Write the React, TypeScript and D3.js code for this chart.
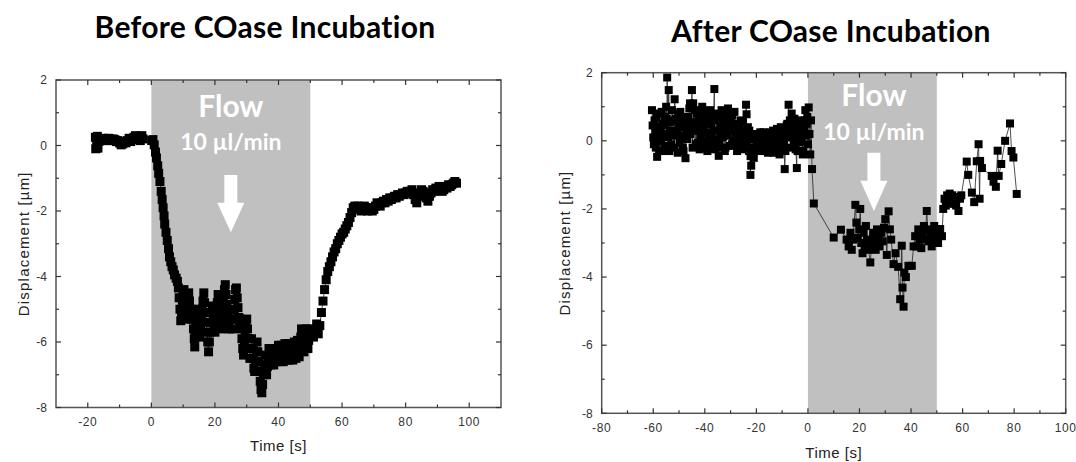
import { useEffect, useRef } from 'react'
import { select, scaleLinear, line } from 'd3'

type Pt = [number, number]

// ---- left panel: before COase incubation (time [s], displacement [µm]) ----
const leftBaseline: Pt[] = [
  [-17.6, 0.25], [-17.5, -0.1], [-17.2, 0.1], [-17.0, 0.28], [-16.8, -0.08], [-16.5, 0.12],
  [-16.0, 0.2], [-15.5, 0.15], [-15.0, 0.22], [-14.5, 0.2], [-14.0, 0.15], [-13.5, 0.22],
  [-13.0, 0.2], [-12.5, 0.15], [-12.0, 0.2], [-11.5, 0.18], [-11.0, 0.12], [-10.5, 0.15],
  [-10.0, 0.08], [-9.5, 0.02], [-9.0, 0.05], [-8.5, 0.12], [-8.0, 0.08], [-7.5, 0.15],
  [-7.0, 0.22], [-6.5, 0.12], [-6.0, 0.18], [-5.5, 0.25], [-5.0, 0.3], [-4.5, 0.2],
  [-4.0, 0.28], [-3.5, 0.15], [-3.0, 0.3], [-2.6, 0.2],
]

const leftDrop: Pt[] = [
  [0.1, 0.15], [0.5, 0.18], [0.9, 0.02], [1.3, -0.2], [1.6, -0.38], [2.0, -0.62], [2.3, -0.85],
  [2.7, -1.1], [3.1, -1.4], [3.4, -1.65], [3.7, -1.9], [4.0, -2.15], [4.2, -2.4], [4.6, -2.65],
  [5.0, -2.9], [5.4, -3.15], [5.7, -3.4], [6.1, -3.55], [6.5, -3.7], [6.9, -3.8], [7.3, -3.95],
  [7.8, -4.05], [8.2, -4.15],
]

const leftTrough: Pt[] = [
  [8.5, -4.35], [8.75, -4.65], [9.0, -5.0], [9.25, -5.35], [9.5, -5.1], [9.75, -4.8],
  [10.0, -4.5], [10.25, -4.4], [10.5, -4.7], [10.75, -5.0], [11.0, -5.3], [11.25, -5.05],
  [11.5, -4.75], [11.75, -4.5], [12.0, -4.75], [12.25, -5.05], [12.5, -5.3], [12.75, -5.0],
  [13.0, -5.3], [13.25, -5.6], [13.5, -5.9], [13.65, -6.15], [13.8, -5.85], [14.0, -5.55],
  [14.25, -5.25], [14.5, -5.0], [14.75, -5.25], [15.0, -5.55], [15.25, -5.85], [15.5, -5.6],
  [15.75, -5.3], [16.0, -5.0], [16.25, -4.75], [16.5, -4.5], [16.75, -4.8], [17.0, -5.1],
  [17.25, -5.4], [17.5, -5.7], [17.75, -6.0], [18.0, -6.3], [18.25, -6.0], [18.5, -5.7],
  [18.75, -5.4], [19.0, -5.1], [19.25, -4.9], [19.5, -5.2], [19.75, -5.5], [20.0, -5.7],
  [20.25, -5.4], [20.5, -5.1], [20.75, -4.8], [21.0, -4.55], [21.25, -4.85], [21.5, -5.15],
  [21.75, -5.45], [22.0, -5.6], [22.25, -5.3], [22.5, -5.0], [22.75, -4.7], [23.0, -4.4],
  [23.25, -4.25], [23.5, -4.55], [23.75, -4.85], [24.0, -5.15], [24.25, -5.45], [24.5, -5.6],
  [24.75, -5.3], [25.0, -5.0], [25.25, -5.3], [25.5, -5.6], [25.75, -5.3], [26.0, -5.0],
  [26.25, -4.7], [26.5, -4.4], [26.75, -4.35], [27.0, -4.65], [27.25, -4.95], [27.5, -5.25],
  [27.75, -5.55], [28.0, -5.3], [28.25, -5.6], [28.5, -5.9], [28.75, -6.2], [29.0, -6.4],
  [29.25, -6.1], [29.5, -5.8], [29.75, -5.5], [30.0, -5.3], [30.25, -5.6], [30.5, -5.9],
  [30.75, -6.2], [31.0, -6.5], [31.25, -6.2], [31.5, -5.9], [31.75, -6.2], [32.0, -6.5],
  [32.25, -6.8], [32.5, -6.9], [32.75, -6.6], [33.0, -6.3], [33.25, -6.0], [33.5, -6.3],
  [33.75, -6.6], [34.0, -6.9], [34.25, -7.2], [34.5, -7.45], [34.75, -7.55], [35.0, -7.3],
  [35.25, -7.0], [35.5, -6.7], [35.75, -6.4], [36.0, -6.7], [36.25, -7.0], [36.5, -6.75],
  [36.75, -6.45], [37.0, -6.2], [37.25, -6.45], [37.5, -6.7], [37.75, -6.45], [38.0, -6.2],
  [38.25, -6.45], [38.5, -6.7], [38.75, -6.45], [39.0, -6.2], [39.25, -6.45], [39.5, -6.6],
  [39.75, -6.35], [40.0, -6.1], [40.25, -6.35], [40.5, -6.6], [40.75, -6.35], [41.0, -6.1],
  [41.25, -6.35], [41.5, -6.6], [41.75, -6.35], [42.0, -6.05], [42.25, -6.3], [42.5, -6.55],
  [42.75, -6.3], [43.0, -6.05], [43.25, -6.3], [43.5, -6.55], [43.75, -6.3], [44.0, -6.05],
  [44.25, -6.3], [44.5, -6.55], [44.75, -6.3], [45.0, -6.0], [45.25, -6.25], [45.5, -6.5],
  [45.75, -6.2], [46.0, -5.95], [46.25, -6.2], [46.5, -6.45], [46.75, -6.15], [47.0, -5.85],
  [47.25, -5.6], [47.5, -5.9], [47.75, -6.2], [48.0, -6.3], [48.25, -6.0], [48.5, -5.7],
  [48.75, -5.6], [49.0, -5.9], [49.25, -6.2], [49.5, -5.95], [49.75, -5.65], [50.0, -5.6],
]

const leftRecovery: Pt[] = [
  [51.0, -5.85], [51.5, -5.65], [52.0, -5.45], [52.5, -5.75], [53.0, -5.5], [53.5, -5.1],
  [54.0, -4.75], [54.5, -4.4], [55.0, -4.1], [55.5, -3.85], [56.0, -3.7], [56.5, -3.55],
  [57.0, -3.4], [57.5, -3.25], [58.0, -3.15], [58.5, -3.0], [59.0, -2.9], [59.5, -2.8],
  [60.0, -2.7], [60.5, -2.65], [61.0, -2.55], [61.5, -2.45], [62.0, -2.35], [62.5, -2.2],
  [63.0, -2.05], [63.5, -1.9], [64.0, -1.85], [64.5, -1.95], [65.0, -1.85], [65.5, -1.9],
  [66.0, -2.0], [66.5, -1.95], [67.0, -1.85], [67.5, -1.9], [68.0, -2.0], [68.5, -1.95],
  [69.0, -1.9], [69.5, -2.0], [70.0, -1.95], [70.5, -1.85], [71.0, -1.75], [71.5, -1.8],
  [72.0, -1.85], [72.5, -1.75], [73.0, -1.7], [73.5, -1.75], [74.0, -1.65], [74.5, -1.7],
  [75.0, -1.6], [75.5, -1.65], [76.0, -1.6], [76.5, -1.55], [77.0, -1.6], [77.5, -1.5],
  [78.0, -1.55], [78.5, -1.5], [79.0, -1.45], [79.5, -1.5], [80.0, -1.45], [80.5, -1.4],
  [81.0, -1.45], [81.5, -1.4], [82.0, -1.35], [82.5, -1.5], [83.0, -1.65], [83.5, -1.75],
  [84.0, -1.55], [84.5, -1.45], [85.0, -1.35], [85.5, -1.4], [86.0, -1.5], [86.5, -1.6],
  [87.0, -1.7], [87.5, -1.55], [88.0, -1.45], [88.5, -1.35], [89.0, -1.4], [89.5, -1.3],
  [90.0, -1.35], [90.5, -1.25], [91.0, -1.3], [91.5, -1.4], [92.0, -1.35], [92.5, -1.25],
  [93.0, -1.3], [93.5, -1.2], [94.0, -1.25], [94.5, -1.2], [95.0, -1.15], [95.5, -1.1],
  [96.0, -1.15],
]

// ---- right panel: after COase incubation ----
const rightBefore: Pt[] = [
  [-60.5, 0.9], [-60.0, 0.1], [-59.5, 0.6], [-59.0, -0.2], [-58.5, -0.47], [-58.0, 0.4],
  [-57.5, 0.8], [-57.0, 0.0], [-56.5, 0.5], [-56.0, -0.3], [-55.5, 0.7], [-55.0, 1.0],
  [-54.6, 1.86], [-54.0, 1.49], [-53.5, 0.3], [-53.0, -0.1], [-52.5, 0.6], [-51.7, 1.22],
  [-51.0, 0.2], [-50.5, -0.35], [-50.0, 0.5], [-49.5, 0.85], [-49.0, 0.1], [-48.5, -0.2],
  [-48.0, 0.4], [-47.5, -0.51], [-47.0, 0.3], [-46.5, 0.7], [-46.0, 0.95], [-45.5, 0.2],
  [-45.0, 1.49], [-44.5, 1.1], [-44.0, 0.5], [-43.5, -0.1], [-43.0, 0.8], [-42.5, 0.3],
  [-42.0, -0.25], [-41.5, 0.6], [-41.0, 1.0], [-40.5, 0.4], [-40.0, 0.0], [-39.5, 0.7],
  [-39.0, -0.3], [-38.5, 0.2], [-38.0, 0.9], [-37.5, 0.5], [-37.0, -0.1], [-36.3, 1.52],
  [-36.0, 0.8], [-35.5, 0.3], [-35.0, -0.2], [-34.6, -0.44], [-34.0, 0.4], [-33.5, 0.9],
  [-33.0, 0.1], [-32.5, 0.6], [-32.0, -0.2], [-31.5, 0.5], [-31.0, 0.95], [-30.5, 0.3],
  [-30.0, 0.7], [-29.5, -0.1], [-29.0, 0.4], [-28.5, 0.85], [-28.0, 0.2], [-27.5, -0.3],
  [-27.0, 0.5], [-26.5, 0.1], [-26.0, 0.6], [-25.5, -0.2], [-25.0, 0.3], [-24.5, 0.0],
  [-24.0, 1.06], [-23.8, 0.78], [-23.3, 0.4], [-22.8, -0.3], [-22.3, -1.0], [-22.0, -0.73],
  [-21.5, -0.2], [-21.0, -0.5], [-20.5, 0.1], [-20.0, -0.25], [-19.5, 0.2], [-19.0, -0.1],
  [-18.5, 0.25], [-18.0, -0.3], [-17.5, 0.0], [-17.0, 0.2], [-16.5, -0.2], [-16.0, 0.1],
  [-15.5, -0.35], [-15.0, 0.2], [-14.5, 0.0], [-14.0, -0.3], [-13.5, 0.3], [-13.0, 0.1],
  [-12.5, -0.2], [-12.0, 0.35], [-11.5, 0.0], [-11.0, -0.4], [-10.5, 0.4], [-10.0, 0.1],
  [-9.5, -0.2], [-9.0, -0.83], [-8.5, 0.2], [-8.0, 0.5], [-7.5, 1.06], [-7.0, 0.6],
  [-6.3, 0.8], [-6.0, 0.2], [-5.5, -0.1], [-5.0, 0.4], [-4.3, -0.8], [-4.0, -0.3],
  [-3.5, 0.3], [-3.0, 0.6], [-2.5, 0.0], [-2.0, -0.4], [-1.5, 0.3], [-1.0, 0.9],
  [-0.5, 0.5], [0.0, -0.1], [0.3, 0.98], [0.6, 0.2], [0.9, -0.4], [1.2, 0.6],
]

// samples between the ones above (the pre-flow trace is recorded densely)
const rightBeforeDense: Pt[] = [
  [-60.25, 0.45], [-59.75, -0.1], [-59.25, 0.25], [-58.75, 0.7], [-58.25, 0.05], [-57.75, -0.3],
  [-57.25, 0.35], [-56.75, 0.85], [-56.25, 0.2], [-55.75, -0.15], [-55.25, 0.45], [-54.75, 0.65],
  [-54.25, 0.1], [-53.75, -0.3], [-53.25, 0.55], [-52.75, 0.9], [-52.25, 0.15], [-51.75, -0.2],
  [-51.25, 0.65], [-50.75, 0.3], [-50.25, 0.8], [-49.75, -0.05], [-49.25, 0.45], [-48.75, 0.7],
  [-48.25, -0.3], [-47.75, 0.15], [-47.25, 0.6], [-46.75, 0.05], [-46.25, 0.4], [-45.75, 1.1],
  [-45.25, 0.55], [-44.75, -0.2], [-44.25, 0.3], [-43.75, 0.9], [-43.25, 0.45], [-42.75, -0.05],
  [-42.25, 0.65], [-41.75, 0.15], [-41.25, 0.85], [-40.75, -0.2], [-40.25, 0.55], [-39.75, 0.25],
  [-39.25, 0.8], [-38.75, -0.1], [-38.25, 0.5], [-37.75, 0.1], [-37.25, 0.7], [-36.75, 0.3],
  [-36.25, -0.25], [-35.75, 0.6], [-35.25, 0.05], [-34.75, 0.75], [-34.25, -0.1], [-33.75, 0.2],
  [-33.25, 0.65], [-32.75, 0.35], [-32.25, -0.3], [-31.75, 0.8], [-31.25, 0.15], [-30.75, 0.55],
  [-30.25, -0.15], [-29.75, 0.35], [-29.25, 0.75], [-28.75, 0.0], [-28.25, 0.5], [-27.75, 0.25],
  [-27.25, -0.2], [-26.75, 0.4], [-26.25, -0.1], [-25.75, 0.3], [-25.25, 0.55], [-24.75, -0.25],
  [-24.25, 0.2], [-23.75, -0.05], [-23.25, 0.1], [-22.75, 0.3], [-22.25, -0.45], [-21.75, 0.05],
  [-21.25, 0.2], [-20.75, -0.3], [-20.25, 0.15], [-19.75, -0.1], [-19.25, 0.05], [-18.75, -0.25],
  [-18.25, 0.1], [-17.75, -0.15], [-17.25, 0.25], [-16.75, -0.05], [-16.25, -0.3], [-15.75, 0.15],
  [-15.25, -0.1], [-14.75, 0.25], [-14.25, -0.2], [-13.75, 0.0], [-13.25, -0.35], [-12.75, 0.2],
  [-12.25, -0.05], [-11.75, 0.25], [-11.25, -0.25], [-10.75, 0.1], [-10.25, -0.3], [-9.75, 0.3],
  [-9.25, 0.0], [-8.75, -0.3], [-8.25, 0.45], [-7.75, 0.1], [-7.25, 0.35], [-6.75, -0.2],
  [-6.25, 0.5], [-5.75, 0.1], [-5.25, 0.65], [-4.75, -0.25], [-4.25, 0.2], [-3.75, 0.45],
  [-3.25, -0.05], [-2.75, 0.4], [-2.25, 0.2], [-1.75, -0.3], [-1.25, 0.6], [-0.75, 0.15],
  [-0.25, 0.7],
]

const rightFlow: Pt[] = [
  [1.6, -0.83], [2.3, -1.84], [10.0, -2.84], [12.8, -2.61], [15.0, -2.9], [15.8, -3.1],
  [16.5, -2.7], [17.0, -3.2], [17.5, -2.9], [18.4, -1.88], [18.8, -2.4], [19.3, -2.85],
  [19.9, -2.6], [20.3, -2.0], [20.7, -3.0], [21.2, -3.3], [21.6, -2.7], [22.0, -3.1],
  [22.5, -2.5], [23.0, -2.9], [23.5, -3.2], [24.2, -3.57], [24.8, -3.0], [25.3, -2.7],
  [25.8, -2.9], [26.3, -3.2], [26.8, -2.6], [27.3, -2.9], [27.8, -3.1], [28.4, -2.7],
  [29.0, -2.95], [29.5, -2.55], [30.0, -2.3], [30.6, -3.35], [31.3, -2.07], [31.8, -2.6],
  [32.3, -2.9], [33.2, -3.62], [34.0, -3.3], [35.0, -3.7], [35.8, -4.65], [36.4, -3.08],
  [36.7, -4.31], [37.1, -4.87], [37.4, -3.87], [38.0, -4.0], [39.0, -3.67], [40.3, -3.67],
  [41.0, -3.1], [41.6, -2.8], [42.2, -3.1], [42.8, -2.6], [43.3, -2.9], [44.0, -3.15],
  [44.5, -2.7], [45.0, -2.5], [45.5, -2.9], [46.1, -2.06], [46.5, -2.6], [47.0, -2.95],
  [47.5, -2.7], [48.0, -3.1], [48.5, -2.8], [49.0, -2.5], [49.5, -2.9], [50.0, -2.7],
  [50.5, -3.0], [51.3, -2.59], [52.0, -2.8],
]

const rightAfter: Pt[] = [
  [52.5, -2.0], [53.0, -1.7], [53.5, -1.9], [54.0, -1.6], [54.5, -1.8], [55.0, -1.55],
  [55.5, -1.75], [56.0, -1.6], [56.5, -1.85], [57.0, -1.65], [57.5, -1.9], [58.4, -2.06],
  [59.0, -1.7], [59.5, -1.6], [61.6, -0.61], [62.2, -1.0], [63.6, -1.52], [64.5, -1.8],
  [65.5, -0.6], [66.2, -0.1], [66.6, -1.7], [66.8, -0.59], [67.5, -0.8], [71.3, -1.03],
  [72.0, -1.2], [72.9, -1.35], [73.6, -0.29], [74.0, -1.03], [75.0, -0.68], [76.5, 0.0],
  [78.4, 0.51], [79.0, -0.3], [79.7, -0.49], [81.0, -1.56],
]

const leftSeries = [...leftBaseline, ...leftDrop, ...leftTrough, ...leftRecovery]
const rightSeries = [
  ...[...rightBefore, ...rightBeforeDense].sort((a, b) => a[0] - b[0]),
  ...rightFlow,
  ...rightAfter,
]

const xMajorLeft = [-20, 0, 20, 40, 60, 80, 100]
const xMinorLeft = [-10, 10, 30, 50, 70, 90]
const xMajorRight = [-80, -60, -40, -20, 0, 20, 40, 60, 80, 100]
const xMinorRight = [-70, -50, -30, -10, 10, 30, 50, 70, 90]
const yMajor = [-8, -6, -4, -2, 0, 2]
const yMinor = [-7, -5, -3, -1, 1]
const flowWindow = [0, 50]

const titles = ['Before COase Incubation', 'After COase Incubation']
const flowLabel = 'Flow'
const rateLabel = '10 µl/min'
const xLabel = 'Time [s]'
const yLabel = 'Displacement [µm]'

const panels = [
  {
    title: titles[0],
    data: leftSeries,
    xDomain: [-30, 110],
    xMajor: xMajorLeft,
    xMinor: xMinorLeft,
    box: { x0: 56, x1: 501, y0: 80, y1: 407.5 },
    titleX: 265,
    titleY: 38,
    marker: 9,
    xLabelY: 451,
    yLabelX: 29,
    note: { t: 25, flowV: 0.87, rateV: -0.14, top: -0.9, neck: -1.75, tip: -2.65 },
  },
  {
    title: titles[1],
    data: rightSeries,
    xDomain: [-80, 100],
    xMajor: xMajorRight,
    xMinor: xMinorRight,
    box: { x0: 601.7, x1: 1065.7, y0: 72.7, y1: 413.3 },
    titleX: 831,
    titleY: 42,
    marker: 8,
    xLabelY: 458,
    yLabelX: 570,
    note: { t: 25.6, flowV: 1.03, rateV: 0.03, top: -0.35, neck: -1.17, tip: -2.06 },
  },
]

const axisFont = '"Liberation Sans", Arial, sans-serif'
const titleFont = 'Lato, "Open Sans", sans-serif'

const App = () => {
  const svgRef = useRef<SVGSVGElement>(null)

  useEffect(() => {
    const svg = select(svgRef.current)
    svg.selectAll('*').remove()

    panels.forEach((p) => {
      const { x0, x1, y0, y1 } = p.box
      const x = scaleLinear().domain(p.xDomain).range([x0, x1])
      const y = scaleLinear().domain([-8, 2]).range([y1, y0])
      const g = svg.append('g')

      // flow window shading
      g.append('rect')
        .attr('x', x(flowWindow[0]))
        .attr('y', y0)
        .attr('width', x(flowWindow[1]) - x(flowWindow[0]))
        .attr('height', y1 - y0)
        .attr('fill', '#c0c0c0')

      // title
      g.append('text')
        .text(p.title)
        .attr('x', p.titleX)
        .attr('y', p.titleY)
        .attr('text-anchor', 'middle')
        .attr('font-family', titleFont)
        .attr('font-weight', 'bold')
        .attr('font-size', 30)
        .attr('letter-spacing', 0.3)
        .attr('fill', '#000')

      // flow annotation
      const n = p.note
      g.append('text')
        .text(flowLabel)
        .attr('x', x(n.t))
        .attr('y', y(n.flowV))
        .attr('text-anchor', 'middle')
        .attr('font-family', titleFont)
        .attr('font-weight', 'bold')
        .attr('font-size', 30)
        .attr('fill', '#fff')
      g.append('text')
        .text(rateLabel)
        .attr('x', x(n.t))
        .attr('y', y(n.rateV))
        .attr('text-anchor', 'middle')
        .attr('font-family', titleFont)
        .attr('font-weight', 'bold')
        .attr('font-size', 23)
        .attr('fill', '#fff')
      const ax = x(n.t)
      const arrow = [
        [ax - 6.5, y(n.top)],
        [ax + 6.5, y(n.top)],
        [ax + 6.5, y(n.neck)],
        [ax + 13.5, y(n.neck)],
        [ax, y(n.tip)],
        [ax - 13.5, y(n.neck)],
        [ax - 6.5, y(n.neck)],
      ]
      g.append('polygon')
        .attr('points', arrow.map((d) => d.join(',')).join(' '))
        .attr('fill', '#fff')

      // data
      const path = line<Pt>()
        .x((d) => x(d[0]))
        .y((d) => y(d[1]))
      g.append('path')
        .attr('d', path(p.data))
        .attr('fill', 'none')
        .attr('stroke', '#222')
        .attr('stroke-width', 0.8)
      const s = p.marker
      g.selectAll('rect.pt')
        .data(p.data)
        .join('rect')
        .attr('class', 'pt')
        .attr('x', (d) => x(d[0]) - s / 2)
        .attr('y', (d) => y(d[1]) - s / 2)
        .attr('width', s)
        .attr('height', s)
        .attr('fill', '#000')

      // frame
      g.append('rect')
        .attr('x', x0)
        .attr('y', y0)
        .attr('width', x1 - x0)
        .attr('height', y1 - y0)
        .attr('fill', 'none')
        .attr('stroke', '#555')
        .attr('stroke-width', 1.5)

      const tickColor = '#333'
      const xt = [
        ...p.xMajor.map((v) => ({ v, len: 5 })),
        ...p.xMinor.map((v) => ({ v, len: 3 })),
      ]
      xt.forEach(({ v, len }) => {
        g.append('line')
          .attr('x1', x(v)).attr('x2', x(v))
          .attr('y1', y1).attr('y2', y1 - len)
          .attr('stroke', tickColor).attr('stroke-width', 1.2)
        g.append('line')
          .attr('x1', x(v)).attr('x2', x(v))
          .attr('y1', y0).attr('y2', y0 + len)
          .attr('stroke', tickColor).attr('stroke-width', 1.2)
      })
      const yt = [
        ...yMajor.map((v) => ({ v, len: 5 })),
        ...yMinor.map((v) => ({ v, len: 3 })),
      ]
      yt.forEach(({ v, len }) => {
        g.append('line')
          .attr('x1', x0).attr('x2', x0 + len)
          .attr('y1', y(v)).attr('y2', y(v))
          .attr('stroke', tickColor).attr('stroke-width', 1.2)
        g.append('line')
          .attr('x1', x1).attr('x2', x1 - len)
          .attr('y1', y(v)).attr('y2', y(v))
          .attr('stroke', tickColor).attr('stroke-width', 1.2)
      })

      // tick labels
      p.xMajor.forEach((v) => {
        g.append('text')
          .text(String(v))
          .attr('x', x(v))
          .attr('y', y1 + 18.5)
          .attr('text-anchor', 'middle')
          .attr('font-family', axisFont)
          .attr('font-size', 12)
          .attr('letter-spacing', 0.6)
          .attr('fill', tickColor)
      })
      yMajor.forEach((v) => {
        g.append('text')
          .text(String(v))
          .attr('x', x0 - 9)
          .attr('y', y(v))
          .attr('dy', '0.35em')
          .attr('text-anchor', 'end')
          .attr('font-family', axisFont)
          .attr('font-size', 12)
          .attr('fill', tickColor)
      })

      // axis titles
      g.append('text')
        .text(xLabel)
        .attr('x', (x0 + x1) / 2)
        .attr('y', p.xLabelY)
        .attr('text-anchor', 'middle')
        .attr('font-family', axisFont)
        .attr('font-size', 15)
        .attr('letter-spacing', 0.5)
        .attr('fill', '#222')
      g.append('text')
        .text(yLabel)
        .attr('transform', `translate(${p.yLabelX} ${(y0 + y1) / 2}) rotate(-90)`)
        .attr('text-anchor', 'middle')
        .attr('font-family', axisFont)
        .attr('font-size', 15)
        .attr('letter-spacing', 1.2)
        .attr('fill', '#222')
    })
  }, [])

  return (
    <div>
      <svg
        ref={svgRef}
        width="1076"
        height="462"
        style={{ position: 'absolute', left: 0, top: 0, background: '#fff' }}
      ></svg>
    </div>
  )
}

export default App
